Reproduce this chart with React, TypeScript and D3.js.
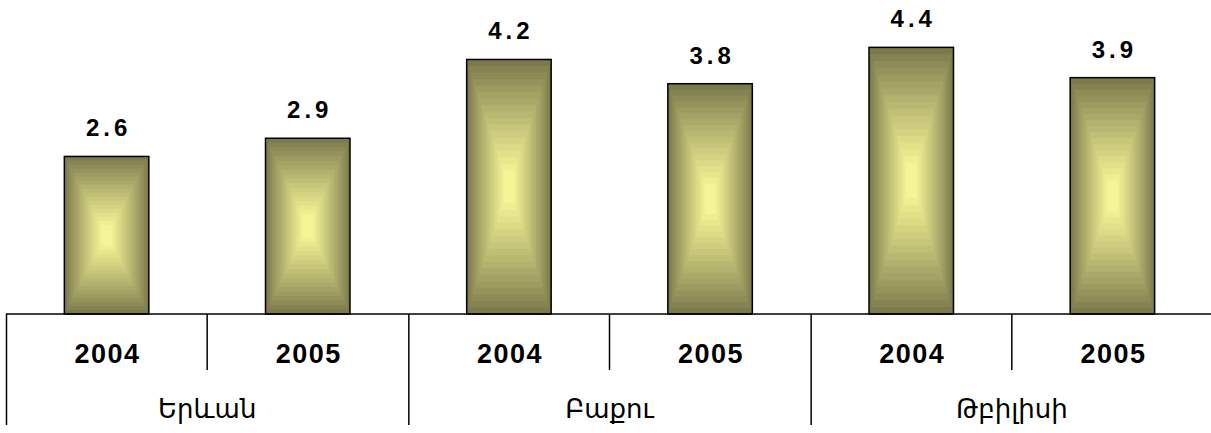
import React from "react";
import * as d3 from "d3";

const cities = ["Երևան", "Բաքու", "Թբիլիսի"];
const years = ["2004", "2005"];
const values = [
  [2.6, 2.9],
  [4.2, 3.8],
  [4.4, 3.9],
];

const W = 1211;
const H = 433;
const left = 6;
const right = 1213;
const baseY = 314;
const topY = 11;
const STEPS = 18;

export default function App() {
  const flat = cities.flatMap((c, ci) => years.map((yr, yi) => ({ key: `${ci}-${yi}`, city: c, year: yr, value: values[ci][yi] })));
  const x = d3.scaleBand<string>().domain(flat.map((d) => d.key)).range([left, right]).paddingInner(0).paddingOuter(0);
  const y = d3.scaleLinear().domain([0, 5]).range([baseY, topY]);
  const bw = x.bandwidth();
  const barW = bw * 0.42;
  const color = d3.interpolateRgb("#7c794c", "#fbfb9a");
  const font = "'Liberation Sans', Arial, 'DejaVu Sans', sans-serif";

  return (
    <svg width={W} height={H} style={{ position: "absolute", left: 0, top: 0 }}>
      <rect x={0} y={0} width={W} height={H} fill="#fff" />
      {flat.map((d) => {
        const cx = (x(d.key) as number) + bw / 2;
        const x0 = cx - barW / 2;
        const y0 = y(d.value);
        const h = baseY - y0;
        const rects = d3.range(STEPS).map((i) => {
          const t = i / STEPS;
          const ix = (barW / 2) * t * 0.92;
          const iy = (h / 2) * t * 0.92;
          return (
            <rect key={i} x={x0 + ix} y={y0 + iy} width={barW - 2 * ix} height={h - 2 * iy} fill={color(Math.pow(t, 0.9))} />
          );
        });
        return (
          <g key={d.key}>
            {rects}
            <rect x={x0} y={y0} width={barW} height={h} fill="none" stroke="#000" strokeWidth={1.5} />
            <text x={cx + 2} y={y0 - 20} textAnchor="middle" fontFamily={font} fontWeight="bold" fontSize={24} letterSpacing={4}>
              {d.value.toFixed(1)}
            </text>
            <text x={cx + 1} y={363} textAnchor="middle" fontFamily={font} fontWeight="bold" fontSize={27} letterSpacing={1.5}>
              {d.year}
            </text>
          </g>
        );
      })}
      <line x1={left} x2={W} y1={baseY} y2={baseY} stroke="#000" strokeWidth={1.5} />
      {cities.map((c, ci) => {
        const gx = x(`${ci}-0`) as number;
        return (
          <g key={c}>
            <line x1={gx + 0.5} x2={gx + 0.5} y1={baseY} y2={425} stroke="#000" strokeWidth={1.5} />
            <line x1={gx + bw} x2={gx + bw} y1={baseY} y2={370} stroke="#000" strokeWidth={1.5} />
            <text x={gx + bw} y={418} textAnchor="middle" fontFamily={font} fontSize={26}>
              {c}
            </text>
          </g>
        );
      })}
    </svg>
  );
}
